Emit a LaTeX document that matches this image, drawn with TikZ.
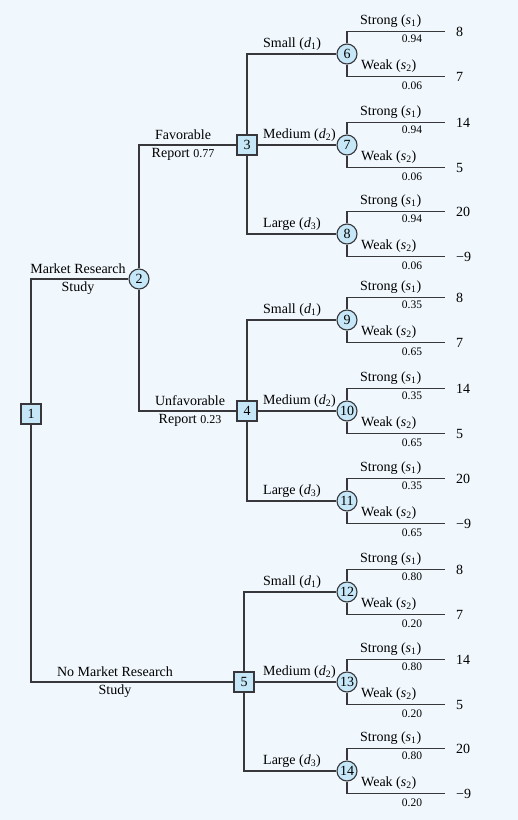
\documentclass[tikz,border=0pt]{standalone}
\usepackage{fontspec}
\setmainfont{Liberation Serif}
\definecolor{treebg}{RGB}{240,247,253}
\definecolor{treefill}{RGB}{198,231,247}
\definecolor{treeline}{RGB}{55,55,60}
\usetikzlibrary{positioning}

\begin{document}
\begin{tikzpicture}[
  x=1pt,y=-1pt,
  every node/.style={font=\fontsize{14}{18}\selectfont,inner sep=1pt},
  decbox/.style={draw=treeline,fill=treefill,line width=1.1pt,minimum size=20pt,inner sep=0pt},
  chancenode/.style={circle,draw=treeline,fill=treefill,line width=1.1pt,minimum size=20pt,inner sep=0pt},
  branch/.style={draw=treeline,line width=1.1pt},
  prob/.style={font=\fontsize{11.5}{12}\selectfont},
]
  % Background
  \fill[treebg] (0,0) rectangle (518,820);
  \useasboundingbox (0,0) rectangle (518,820);

  % Decision nodes
  \node[decbox] (n1) at (31,414) {1};
  \node[chancenode] (n2) at (139,279) {2};
  \node[decbox] (n3) at (247,145) {3};
  \node[decbox] (n4) at (247,411) {4};
  \node[decbox] (n5) at (244,682) {5};

  % First-level branches
  \draw[branch] (n1.north) |- (n2.west);
  \draw[branch] (n1.south) |- (n5.west);
  \draw[branch] (n2.north) |- (n3.west);
  \draw[branch] (n2.south) |- (n4.west);

  \node[align=center] (mrs) at (78,279) {Market Research\\Study};
  \node[align=center] (nomrs) at (115,682) {No Market Research\\Study};
  \node[align=center] (fav) at (183,145) {Favorable\\Report {\fontsize{12}{12}\selectfont 0.77}};
  \node[align=center] (unfav) at (190,411) {Unfavorable\\Report {\fontsize{12}{12}\selectfont 0.23}};

  % Chance nodes with their outcomes
  \foreach \num/\yy/\dname/\dk/\ps/\pw/\vs/\vw in {
      6/54/Small/1/0.94/0.06/8/7,
      7/145/Medium/2/0.94/0.06/14/5,
      8/234/Large/3/0.94/0.06/20/−9,
      9/320/Small/1/0.35/0.65/8/7,
      10/411/Medium/2/0.35/0.65/14/5,
      11/501/Large/3/0.35/0.65/20/−9,
      12/592/Small/1/0.80/0.20/8/7,
      13/682/Medium/2/0.80/0.20/14/5,
      14/771/Large/3/0.80/0.20/20/−9} {
    \node[chancenode] (c\num) at (347,\yy) {\num};
    \coordinate (s\num) at (445,\yy-22.5);
    \coordinate (w\num) at (445,\yy+22.5);
    \draw[branch] (c\num.north) |- (s\num);
    \draw[branch] (c\num.south) |- (w\num);
    \node[anchor=west] at (262,\yy-10) {\dname\ (\textit{d}\textsubscript{\dk})};
    \node[anchor=west] at (359,\yy-33) {Strong (\textit{s}\textsubscript{1})};
    \node[prob] at (412,\yy-15) {\ps};
    \node[anchor=west] at (360,\yy+12) {Weak (\textit{s}\textsubscript{2})};
    \node[prob] at (412,\yy+32) {\pw};
    \node[anchor=west] at (455,\yy-22.5) {\vs};
    \node[anchor=west] at (455,\yy+22.5) {\vw};
  }

  % Decision branches
  \draw[branch] (n3.north) |- (c6.west);
  \draw[branch] (n3.east) -- (c7.west);
  \draw[branch] (n3.south) |- (c8.west);
  \draw[branch] (n4.north) |- (c9.west);
  \draw[branch] (n4.east) -- (c10.west);
  \draw[branch] (n4.south) |- (c11.west);
  \draw[branch] (n5.north) |- (c12.west);
  \draw[branch] (n5.east) -- (c13.west);
  \draw[branch] (n5.south) |- (c14.west);
\end{tikzpicture}
\end{document}
